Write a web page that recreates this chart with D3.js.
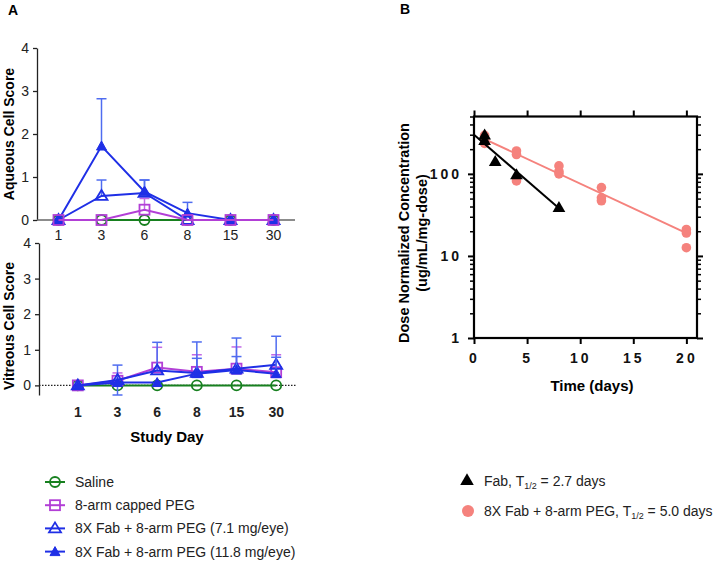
<!DOCTYPE html>
<html><head><meta charset="utf-8">
<script src="https://cdn.jsdelivr.net/npm/d3@7"></script>
<style>
body{margin:0;background:#fff;}
svg{display:block;font-family:"Liberation Sans",Arial,Helvetica,sans-serif;}
</style></head>
<body><svg id="c" width="721" height="562"></svg>
<script>
// ---------- DATA ----------
const days = ["1","3","6","8","15","30"];
const seriesNames = ["Saline","8-arm capped PEG","8X Fab + 8-arm PEG (7.1 mg/eye)","8X Fab + 8-arm PEG (11.8 mg/eye)"];
// Aqueous cell score (mean, upper SD)
const aqSaline   = [0,0,0,0,0,0];
const aqCapped   = [0,0,0.24,0,0,0];
const aqCappedErr= [0,0,0.26,0,0,0];
const aqFab71    = [0,0.56,0.63,0,0,0];
const aqFab71Err = [0,0.37,0.30,0,0,0];
const aqFab118   = [0,1.72,0.66,0.16,0,0];
const aqFab118Err= [0,1.10,0.27,0.25,0,0];
// Vitreous cell score
const vitSaline   = [0,0,0,0,0,0];
const vitCapped   = [0,0.13,0.50,0.38,0.47,0.37];
const vitCappedErr= [0,0.22,0.57,0.48,0.61,0.49];
const vitFab71    = [0,0.15,0.42,0.35,0.47,0.58];
const vitFab71Err = [0,0.42,0.79,0.87,0.86,0.80];
const vitFab71ErrLow = [0,0.42,0,0,0,0];
const vitFab118   = [0,0.08,0.08,0.33,0.43,0.33];
const vitFab118Err= [0,0,0,0.43,0.38,0.46];
// PK (panel B)
const fabTime = [1,1,2,4,8];
const fabConc = [290,250,138,95,38];
const pegTime = [1,1,1,4,4,4,8,8,8,12,12,12,20,20,20];
const pegConc = [295,265,235,190,172,82,125,107,100,68,51,47,21,19,12.6];
const fabFitT = [0,8], fabFitC = [300,38];
const pegFitT = [1,20], pegFitC = [265,19];
const yTicksA = [0,1,2,3,4];
const xTicksB = [0,5,10,15,20];
const yTicksB = [1,10,100];
const legendB = [{label:"Fab, T", sub:"1/2", rest:" = 2.7 days"},{label:"8X Fab + 8-arm PEG, T", sub:"1/2", rest:" = 5.0 days"}];

// ---------- STYLE ----------
const GREEN="#17801f", MAG="#b23fd6", BLUE="#1f2fe6", BLUE_E="#4f6cf0", MAG_E="#c26ae6", PINK="#f5827d";
const svg = d3.select("#c");
svg.append("rect").attr("width",721).attr("height",562).attr("fill","#fff");

svg.append("text").attr("x",8).attr("y",15).attr("font-weight","bold").attr("font-size",14).text("A");
svg.append("text").attr("x",400).attr("y",14).attr("font-weight","bold").attr("font-size",14).text("B");

function marker(g, type, x, y, color){
  if(type==="circle"){
    g.append("circle").attr("cx",x).attr("cy",y).attr("r",5).attr("fill","none").attr("stroke",color).attr("stroke-width",1.8);
  } else if(type==="square"){
    g.append("rect").attr("x",x-5).attr("y",y-5).attr("width",10).attr("height",10).attr("fill","none").attr("stroke",color).attr("stroke-width",1.8);
  } else if(type==="tri"){
    g.append("path").attr("d",`M${x},${y-6}L${x+6},${y+4}L${x-6},${y+4}Z`).attr("fill","none").attr("stroke",color).attr("stroke-width",1.8);
  } else if(type==="ftri"){
    g.append("path").attr("d",`M${x},${y-5}L${x+5},${y+4}L${x-5},${y+4}Z`).attr("fill",color).attr("stroke",color).attr("stroke-width",1);
  }
}

function panelA(opts){
  const g = svg.append("g");
  const xs = d3.scalePoint().domain(days).range([opts.xs0, opts.xs1]).padding(0.5);
  const y = d3.scaleLinear().domain([opts.ymin,4]).range([opts.yb, opts.yt]);
  // y axis
  const ya = g.append("g").attr("transform",`translate(${opts.x0},0)`)
    .call(d3.axisLeft(y).tickValues(yTicksA).tickSize(4).tickSizeOuter(0).tickPadding(4).tickFormat(d3.format("d")));
  ya.select(".domain").attr("stroke","#222").attr("stroke-width",1.3);
  ya.selectAll(".tick line").attr("stroke","#222").attr("stroke-width",1.3);
  ya.selectAll("text").attr("font-size",14).attr("fill","#222").style("font-family","inherit");
  // zero line
  const zl = g.append("line").attr("x1",opts.x0).attr("x2",opts.x1).attr("y1",y(0)).attr("y2",y(0));
  if(opts.dotted) zl.attr("stroke","#222").attr("stroke-width",1.3).attr("stroke-dasharray","1.5,1.5");
  else zl.attr("stroke","#666").attr("stroke-width",1.5);
  // x labels
  g.selectAll(".xl").data(days).join("text").attr("x",d=>xs(d)).attr("y",opts.xlabY)
    .attr("text-anchor","middle").attr("font-size",14).attr("font-weight",opts.boldX?"bold":"normal").attr("fill","#222").text(d=>d);
  // y title
  g.append("text").attr("transform",`translate(${opts.titleX},${opts.titleY}) rotate(-90)`)
    .attr("text-anchor","middle").attr("font-size",14).attr("font-weight","bold").text(opts.title);
  const line = d3.line().x((d,i)=>xs(days[i])).y(d=>y(d));
  opts.series.forEach(s=>{
    const sg = g.append("g");
    s.v.forEach((v,i)=>{
      const eu = s.eu ? s.eu[i] : 0, el = s.el ? s.el[i] : 0;
      const cx = xs(days[i]);
      if(eu>0){
        sg.append("line").attr("x1",cx).attr("x2",cx).attr("y1",y(v)).attr("y2",y(v+eu)).attr("stroke",s.ec).attr("stroke-width",1.5);
        sg.append("line").attr("x1",cx-5).attr("x2",cx+5).attr("y1",y(v+eu)).attr("y2",y(v+eu)).attr("stroke",s.ec).attr("stroke-width",1.5);
      }
      if(el>0){
        sg.append("line").attr("x1",cx).attr("x2",cx).attr("y1",y(v)).attr("y2",y(v-el)).attr("stroke",s.ec).attr("stroke-width",1.5);
        sg.append("line").attr("x1",cx-5).attr("x2",cx+5).attr("y1",y(v-el)).attr("y2",y(v-el)).attr("stroke",s.ec).attr("stroke-width",1.5);
      }
    });
    sg.append("path").attr("d",line(s.v)).attr("fill","none").attr("stroke",s.c).attr("stroke-width",2);
    s.v.forEach((v,i)=>marker(sg, s.m, xs(days[i]), y(v), s.c));
  });
}

panelA({x0:37,x1:295,xs0:37,xs1:295,yt:48,yb:220,ymin:0,xlabY:240,dotted:false,boldX:false,
  titleX:14,titleY:134,title:"Aqueous Cell Score",
  series:[
    {v:aqSaline,m:"circle",c:GREEN,ec:GREEN},
    {v:aqFab71,eu:aqFab71Err,m:"tri",c:BLUE,ec:BLUE_E},
    {v:aqFab118,eu:aqFab118Err,m:"ftri",c:BLUE,ec:BLUE_E},
    {v:aqCapped,eu:aqCappedErr,m:"square",c:MAG,ec:MAG_E}
  ]});

panelA({x0:39,x1:296,xs0:58,xs1:296,yt:243,yb:395,ymin:-0.27,xlabY:417,dotted:true,boldX:true,
  titleX:14,titleY:326,title:"Vitreous Cell Score",
  series:[
    {v:vitSaline,m:"circle",c:GREEN,ec:GREEN},
    {v:vitCapped,eu:vitCappedErr,m:"square",c:MAG,ec:MAG_E},
    {v:vitFab71,eu:vitFab71Err,el:vitFab71ErrLow,m:"tri",c:BLUE,ec:BLUE_E},
    {v:vitFab118,eu:vitFab118Err,m:"ftri",c:BLUE,ec:BLUE_E}
  ]});
svg.append("text").attr("x",167).attr("y",442).attr("text-anchor","middle").attr("font-size",15).attr("font-weight","bold").text("Study Day");

// Legend A
const legA = svg.append("g");
const legTypes = [["circle",GREEN],["square",MAG],["tri",BLUE],["ftri",BLUE]];
seriesNames.forEach((n,i)=>{
  const yy = 482 + i*23.2;
  legA.append("line").attr("x1",45).attr("x2",65).attr("y1",yy).attr("y2",yy).attr("stroke",legTypes[i][1]).attr("stroke-width",2);
  marker(legA, legTypes[i][0], 55, yy, legTypes[i][1]);
  legA.append("text").attr("x",75).attr("y",yy+5).attr("font-size",14).attr("fill","#222").text(n);
});

// ---------- Panel B ----------
const gB = svg.append("g");
const xB = d3.scaleLinear().domain([0,21]).range([474,697]);
const yB = d3.scaleLog().domain([1,500]).range([338,116.5]);
const minorVals = [];
[1,10,100].forEach(b=>{for(let k=2;k<=9;k++){const v=b*k; if(v<=500) minorVals.push(v);}});
function styleAxis(a){
  a.select(".domain").remove();
  a.selectAll(".tick line").attr("stroke","#000").attr("stroke-width",2);
}
const ab = gB.append("g").attr("transform","translate(0,338)").call(d3.axisBottom(xB).tickValues(xTicksB).tickSize(6).tickPadding(9).tickFormat(d=>String(d)));
styleAxis(ab);
ab.selectAll("text").attr("font-size",14).attr("font-weight","bold").attr("letter-spacing","3px").attr("fill","#111").style("font-family","inherit");
const at = gB.append("g").attr("transform","translate(0,116.5)").call(d3.axisTop(xB).tickValues(xTicksB).tickSize(6).tickFormat(""));
styleAxis(at);
const al = gB.append("g").attr("transform","translate(474,0)").call(d3.axisLeft(yB).tickValues(yTicksB).tickSize(6).tickPadding(6).tickFormat(d3.format("d")));
styleAxis(al);
al.selectAll("text").attr("font-size",14).attr("font-weight","bold").attr("letter-spacing","3px").attr("fill","#111").style("font-family","inherit");
const alm = gB.append("g").attr("transform","translate(474,0)").call(d3.axisLeft(yB).tickValues(minorVals).tickSize(4).tickFormat(""));
styleAxis(alm); alm.selectAll(".tick line").attr("stroke-width",1.5);
const ar = gB.append("g").attr("transform","translate(697,0)").call(d3.axisRight(yB).tickValues(yTicksB).tickSize(6).tickFormat(""));
styleAxis(ar);
const arm = gB.append("g").attr("transform","translate(697,0)").call(d3.axisRight(yB).tickValues(minorVals).tickSize(4).tickFormat(""));
styleAxis(arm); arm.selectAll(".tick line").attr("stroke-width",1.5);
gB.append("rect").attr("x",474).attr("y",116.5).attr("width",223).attr("height",221.5).attr("fill","none").attr("stroke","#000").attr("stroke-width",2.2);

const lineB = d3.line().x(d=>xB(d[0])).y(d=>yB(d[1]));
gB.append("path").attr("d",lineB(pegFitT.map((t,i)=>[t,pegFitC[i]]))).attr("stroke",PINK).attr("stroke-width",2).attr("fill","none");
gB.selectAll(".pc").data(pegTime.map((t,i)=>[t,pegConc[i]])).join("circle")
  .attr("cx",d=>xB(d[0])).attr("cy",d=>yB(d[1])).attr("r",4.8).attr("fill",PINK);
gB.append("path").attr("d",lineB(fabFitT.map((t,i)=>[t,fabFitC[i]]))).attr("stroke","#000").attr("stroke-width",2).attr("fill","none");
const tri = d3.symbol().type(d3.symbolTriangle).size(70);
gB.selectAll(".ft").data(fabTime.map((t,i)=>[t,fabConc[i]])).join("path")
  .attr("transform",d=>`translate(${xB(d[0])},${yB(d[1])})`).attr("d",tri).attr("fill","#000");

gB.append("text").attr("transform","translate(409,233) rotate(-90)").attr("text-anchor","middle").attr("font-size",14.5).attr("font-weight","bold").text("Dose Normalized Concentration");
gB.append("text").attr("transform","translate(427,233) rotate(-90)").attr("text-anchor","middle").attr("font-size",14.5).attr("font-weight","bold").text("(ug/mL/mg-dose)");
gB.append("text").attr("x",592).attr("y",391).attr("text-anchor","middle").attr("font-size",15).attr("font-weight","bold").text("Time (days)");

// Legend B
const legB = svg.append("g");
legB.append("path").attr("transform","translate(467,481)").attr("d",d3.symbol().type(d3.symbolTriangle).size(80)).attr("fill","#000");
legB.append("circle").attr("cx",468).attr("cy",511).attr("r",6).attr("fill",PINK);
legendB.forEach((l,i)=>{
  const t = legB.append("text").attr("x",484).attr("y",[486,516][i]).attr("font-size",14).attr("fill","#222");
  t.append("tspan").text(l.label);
  t.append("tspan").attr("font-size",9).attr("dy",3).text(l.sub);
  t.append("tspan").attr("dy",-3).text(l.rest);
});
</script></body></html>
